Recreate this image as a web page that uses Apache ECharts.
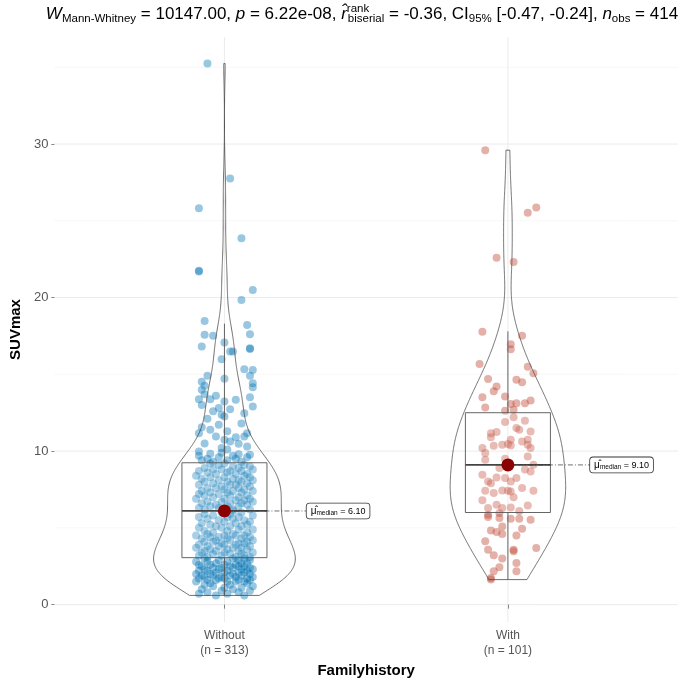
<!DOCTYPE html>
<html><head><meta charset="utf-8">
<script src="https://cdn.jsdelivr.net/npm/echarts@6/dist/echarts.min.js"></script>
<style>html,body{margin:0;padding:0;background:#fff}#c{width:687px;height:686px}</style>
</head><body><div id="c"></div>
<script>
const FONT = 'Liberation Sans, Arial, sans-serif';
const categories = ['Without', 'With'];
const xTitle = 'Familyhistory';
const yTitle = 'SUVmax';
const yTicks = [0, 10, 20, 30];
const yMinorTicks = [5, 15, 25, 35];

// SUVmax values, group "Without"
const withoutValues = [
  35.24, 27.76, 25.81, 23.86, 21.75, 21.70, 20.49, 19.84,
  18.48, 18.22, 17.57, 17.52, 17.61, 16.81, 17.07, 16.70, 16.65, 16.48, 16.48, 15.98, 15.33, 15.29, 14.90, 14.90, 14.72,
  14.51, 14.25, 13.99, 13.71, 14.42, 14.16,
  13.38, 13.38, 13.01, 13.51, 12.90, 13.23, 13.34,
  12.73, 12.80, 12.25, 12.36, 12.47,
  11.56, 11.17, 11.39, 10.95, 11.71, 11.17, 10.95,
  10.74, 10.63, 10.48,
  9.98, 9.82, 10.20, 10.30, 9.76,
  9.3, 9.3, 9.4, 9.4, 9.5, 9.5, 9.6, 9.6, 9.7, 9.7, 9.8, 9.9, 10.1, 10.5, 10.9, 11.3, 11.8, 12.1, 12.6, 13.6,
  6.2, 6.2, 6.2, 6.3, 6.3, 6.4, 6.4, 6.4, 6.5, 6.5,
  6.6, 6.6, 6.6, 6.7, 6.7, 6.7, 6.8, 6.8, 6.9, 6.9,
  6.9, 7.0, 7.0, 7.1, 7.1, 7.1, 7.2, 7.2, 7.3, 7.3,
  7.3, 7.4, 7.4, 7.4, 7.5, 7.5, 7.6, 7.6, 7.6, 7.7,
  7.7, 7.8, 7.8, 7.8, 7.9, 7.9, 8.0, 8.0, 8.0, 8.1,
  8.1, 8.1, 8.2, 8.2, 8.3, 8.3, 8.3, 8.4, 8.4, 8.5,
  8.5, 8.5, 8.6, 8.6, 8.7, 8.7, 8.7, 8.8, 8.8, 8.8,
  8.9, 8.9, 9.0, 9.0, 9.1, 9.1, 9.2, 9.2,
  6.1,
  3.1, 3.1, 3.1, 3.2, 3.2, 3.2, 3.3, 3.3, 3.3, 3.4,
  3.4, 3.4, 3.5, 3.5, 3.5, 3.6, 3.6, 3.6, 3.7, 3.7,
  3.7, 3.8, 3.8, 3.8, 3.9, 3.9, 3.9, 4.0, 4.0, 4.0,
  4.1, 4.1, 4.1, 4.2, 4.2, 4.2, 4.3, 4.3, 4.3, 4.4,
  4.4, 4.4, 4.5, 4.5, 4.5, 4.5, 4.6, 4.6, 4.7, 4.7,
  4.8, 4.8, 4.9, 4.9, 5.0, 5.0, 5.1, 5.1, 5.1, 5.2,
  5.2, 5.3, 5.3, 5.4, 5.4, 5.5, 5.5, 5.6, 5.6, 5.7,
  5.7, 5.7, 5.8, 5.8, 5.9, 5.9, 6.0, 6.0,
  0.6, 0.6, 0.7, 0.7, 0.8, 0.8, 0.9, 0.9, 1.0, 1.0,
  1.1, 1.1, 1.2, 1.2, 1.3, 1.3, 1.4, 1.4, 1.5, 1.5,
  1.5, 1.5, 1.6, 1.6, 1.6, 1.6, 1.7, 1.7, 1.7, 1.7,
  1.8, 1.8, 1.8, 1.8, 1.9, 1.9, 1.9, 1.9, 2.0, 2.0,
  2.0, 2.0, 2.1, 2.1, 2.1, 2.1, 2.2, 2.2, 2.2, 2.2,
  2.3, 2.3, 2.3, 2.3, 2.4, 2.4, 2.4, 2.4, 2.5, 2.5,
  2.5, 2.5, 2.6, 2.6, 2.6, 2.6, 2.7, 2.7, 2.7, 2.8,
  2.8, 2.8, 2.9, 2.9, 2.9, 3.0, 3.0, 3.0
];
// horizontal jitter of each "Without" point, in hundredths of a category
const withoutJitter = [
  -6, 2, -9, 6, -9, -9, 10, 6,
  -7, 8, -7, -4, 9, -8, 0, 9, 9, 2, 3, -1, 7, 10, -6, 9, 0,
  -8, -7, -8, -7, 10, 10,
  -9, -5, -8, 9, 10, 0, 4,
  2, -2, 0, -1, 7,
  -8, -9, -5, -3, -2, 8, 7,
  0, 2, 5,
  -9, -5, -1, 8, 9,
  -4, 6, -8, 1, 4, -6, 8, -2, 3, -9, 5, -1, 1, -7, 4, 1, 6, -6, -4, -3,
  -7, 3, 9, -2, -9, 5, 1, -5, 8, -3,
  6, -8, 2, 10, -1, -6, 7, 4, -10, 0,
  9, -4, 5, -7, 2, 8, -2, -9, 6, 1,
  -5, 10, 3, -8, 0, 7, -3, 5, -6, 9,
  -1, 4, -9, 2, 8, -4, 6, -7, 1, 10,
  -2, 5, -8, 3, 9, -5, 0, -10, 7, -3,
  4, 8, -6, 1, -9, 6, 2, -4, 10, -1,
  5, -7, 3, 9, -2, 7, -5, 0,
  3,
  4, -6, 9, -1, 7, -9, 2, -4, 6, 0,
  -8, 10, -3, 5, -7, 1, 8, -5, 3, -10,
  6, -2, 9, -6, 0, 4, -9, 7, -1, 5,
  -4, 8, -7, 2, 10, -3, 6, -8, 1, -5,
  9, -2, 4, -10, 7, 0, -6, 3, 8, -4,
  1, -7, 5, 10, -1, -9, 6, 2, -3, 8,
  -5, 4, -8, 0, 9, -2, 7, -6, 3, -9,
  5, 1, -4, 10, -7, 2, 6, -1,
  -3, 7, -9, 1, 5, -6, 9, -1, 3, -8,
  6, 0, -4, 10, -7, 2, 8, -5, 4, -10,
  1, 7, -3, 9, -6, 5, -2, 8, -9, 0,
  4, -7, 10, -1, 6, -4, 2, -8, 9, -5,
  3, -10, 7, 0, -3, 5, -6, 8, 1, -9,
  6, -2, 10, -7, 3, -4, 9, -1, 5, -8,
  2, 7, -5, 0, -9, 4, 8, -3, 6, -6,
  1, -10, 9, -2, 5, -7, 3, 7
];

// SUVmax values, group "With"
const withValues = [
  29.60, 25.52, 25.87, 22.60, 22.32, 17.78, 17.52, 16.96, 16.64,
  15.68, 15.50, 15.07, 14.70, 14.20, 14.64, 14.49,
  13.51, 13.55, 12.84, 13.06, 13.12, 13.12, 12.69, 12.62,
  11.89, 11.97, 11.17, 11.24, 11.50, 11.39, 11.28,
  10.20, 9.87, 9.43, 10.34, 10.41, 10.74, 10.46, 10.36, 10.63, 10.74, 10.41, 10.20,
  9.65, 9.11, 8.67, 8.46,
  8.28, 8.24, 8.02, 8.24, 7.59, 8.02, 7.42,
  7.27, 7.44, 7.42, 7.37, 7.42,
  6.46, 6.51, 6.29, 6.33, 6.29, 5.86, 5.71, 5.97, 5.64, 5.60, 5.60, 5.53,
  4.83, 4.73, 5.09, 4.60, 4.94, 4.51, 4.12,
  3.58, 3.21, 3.58, 3.47, 3.69, 2.71,
  2.43, 2.17, 1.74, 1.63, 2.17,
  8.9, 8.8, 7.9, 7.0, 6.8, 6.1, 9.5, 10.9, 12.2, 13.9, 13.3, 3.0
];
const withJitter = [
  -8, 7, 10, -4, 2, -9, 5, 1, 1,
  -10, 7, 9, -7, -4, 3, 5,
  -9, -1, -8, 1, 3, 6, 2, -1,
  -1, 6, -6, -4, 3, 4, 8,
  -9, -8, -8, -5, -2, 1, 0, 1, 5, 7, 7, 8,
  7, 9, 8, -9,
  -4, -1, 1, 3, 5, -7, -8,
  -5, -2, 0, 1, 9,
  7, -4, -2, 1, -7, -7, -7, -3, -3, 1, 4, 8,
  -6, -4, -2, -2, 5, 3, -8,
  -7, -5, 2, 2, 10, 3,
  -3, -5, -6, -6, 3,
  -3, 6, -6, 2, -9, 4, -1, -6, 2, -5, 8, -2
];

// box statistics: [lower whisker, Q1, median, Q3, upper whisker]
const withoutBox = [0.6, 3.06, 6.10, 9.24, 18.3];
const withBox = [1.65, 6.0, 9.10, 12.5, 17.8];

const titleParts = {
  stat: '10147.00', p: '6.22e-08', r: '-0.36', ci: '[-0.47, -0.24]', nobs: '414'
};

// ---------- derived (violin density like ggplot stat_ydensity, trim = TRUE) ----------
function q7(s, p) { const h = (s.length - 1) * p, lo = Math.floor(h); const hi = Math.min(lo + 1, s.length - 1); return s[lo] + (h - lo) * (s[hi] - s[lo]); }
function bwNrd0(x) {
  const n = x.length, m = x.reduce((a, b) => a + b, 0) / n;
  const sd = Math.sqrt(x.reduce((a, b) => a + (b - m) * (b - m), 0) / (n - 1));
  const s = x.slice().sort((a, b) => a - b);
  const iqr = q7(s, 0.75) - q7(s, 0.25);
  return 0.9 * Math.min(sd, iqr / 1.34) * Math.pow(n, -0.2);
}
function kde(x) {
  const s = x.slice().sort((a, b) => a - b), bw = bwNrd0(x), n = x.length, N = 512;
  const ys = [], d = [];
  for (let k = 0; k < N; k++) {
    const y = s[0] + (s[n - 1] - s[0]) * k / (N - 1);
    let acc = 0;
    for (let i = 0; i < n; i++) { const z = (y - s[i]) / bw; acc += Math.exp(-0.5 * z * z); }
    ys.push(y); d.push(acc / (n * bw * Math.sqrt(2 * Math.PI)));
  }
  return { ys, d };
}
const groups = [withoutValues, withValues];
const dens = groups.map(kde);
const maxD = Math.max(...dens.map(o => Math.max(...o.d)));
const violins = dens.map(o => ({ ys: o.ys, w: o.d.map(v => 0.25 * v / maxD) }));
const allVals = withoutValues.concat(withValues);
const dMin = Math.min(...allVals), dMax = Math.max(...allVals);
const yMin = dMin - 0.05 * (dMax - dMin), yMax = dMax + 0.05 * (dMax - dMin);
const counts = groups.map(g => g.length);

const blue = '#0072B5', red = '#BC3C29';
const ptsWithout = withoutValues.map((v, i) => [1 + withoutJitter[i] / 100, v]);
const ptsWith = withValues.map((v, i) => [2 + withJitter[i] / 100, v]);
const boxes = [withoutBox, withBox];

const chart = echarts.init(document.getElementById('c'), null, { renderer: 'canvas' });
const rs = (o) => Object.assign({ fontFamily: FONT, color: '#000', align: 'left', fontWeight: 'normal' }, o);
const option = {
  animation: false,
  backgroundColor: '#fff',
  textStyle: { fontFamily: FONT },
  title: {
    text: '{i|W}{sub|Mann-Whitney}{n| = ' + titleParts.stat + ', }{i|p}{n| = ' + titleParts.p + ', }{i|r\u0302}{sup|rank}{sub|biserial}{n| = ' + titleParts.r + ', CI}{sub|95%}{n| ' + titleParts.ci + ', }{i|n}{sub|obs}{n| = ' + titleParts.nobs + '}',
    left: 362, top: 3, textAlign: 'center', padding: 0,
    textStyle: {
      fontFamily: FONT, fontWeight: 'normal',
      rich: {
        n: rs({ fontSize: 17, lineHeight: 22 }),
        i: rs({ fontSize: 17, lineHeight: 22, fontStyle: 'italic' }),
        sub: rs({ fontSize: 11.5, verticalAlign: 'bottom' }),
        sup: rs({ fontSize: 11.5, verticalAlign: 'top', width: 1 })
      }
    }
  },
  grid: { left: 43, right: 9, top: 37, bottom: 64 },
  xAxis: {
    type: 'value', min: 0.4, max: 2.6,
    name: xTitle, nameLocation: 'middle', nameGap: 37,
    nameTextStyle: { fontFamily: FONT, fontWeight: 'bold', fontSize: 15, color: '#000' },
    axisLine: { show: false },
    axisTick: { show: true, customValues: [1, 2], length: 4, lineStyle: { color: '#666', width: 0.8 } },
    axisLabel: {
      customValues: [1, 2], margin: 6, color: '#555', fontSize: 12, lineHeight: 15, fontFamily: FONT,
      formatter: v => categories[Math.round(v) - 1] + '\n(n = ' + counts[Math.round(v) - 1] + ')'
    },
    splitLine: { show: false }
  },
  yAxis: {
    type: 'value', min: yMin, max: yMax,
    name: yTitle, nameLocation: 'middle', nameGap: 27,
    nameTextStyle: { fontFamily: FONT, fontWeight: 'bold', fontSize: 15, color: '#000' },
    axisLine: { show: false },
    axisTick: { show: true, customValues: yTicks, length: 3, lineStyle: { color: '#666', width: 0.8 } },
    axisLabel: { customValues: yTicks, margin: 6, color: '#555', fontSize: 13, fontFamily: FONT },
    splitLine: { show: false }
  },
  series: [
    {
      type: 'custom', name: 'grid', silent: true, z: 0,
      data: yTicks.map(v => [0, v, 1]).concat(yMinorTicks.map(v => [0, v, 0])).concat([[1, 1, 1], [1, 2, 1]]),
      renderItem: function (params, api) {
        const o = api.value(0), v = api.value(1), major = api.value(2);
        const a = o === 0 ? api.coord([0.4, v]) : api.coord([v, yMin]);
        const b = o === 0 ? api.coord([2.6, v]) : api.coord([v, yMax]);
        return { type: 'line', shape: { x1: a[0], y1: a[1], x2: b[0], y2: b[1] },
          style: { stroke: major ? '#ebebeb' : '#f4f4f4', lineWidth: major ? 1 : 0.7 } };
      }
    },
    {
      type: 'scatter', name: categories[0], data: ptsWithout, symbolSize: 8, z: 2, silent: true,
      itemStyle: { color: blue, opacity: 0.4 }
    },
    {
      type: 'scatter', name: categories[1], data: ptsWith, symbolSize: 8, z: 2, silent: true,
      itemStyle: { color: red, opacity: 0.4 }
    },
    {
      type: 'custom', name: 'box', silent: true, z: 3,
      data: boxes.map((b, g) => [g + 1].concat(b)),
      renderItem: function (params, api) {
        const x = api.value(0), lo = api.value(1), q1 = api.value(2), md = api.value(3), q3 = api.value(4), hi = api.value(5);
        const tl = api.coord([x - 0.15, q3]), br = api.coord([x + 0.15, q1]);
        const mL = api.coord([x - 0.15, md]), mR = api.coord([x + 0.15, md]);
        const wTop = api.coord([x, hi]), wQ3 = api.coord([x, q3]), wQ1 = api.coord([x, q1]), wLo = api.coord([x, lo]);
        const st = { stroke: '#555', lineWidth: 0.9, fill: null };
        return { type: 'group', children: [
          { type: 'rect', shape: { x: tl[0], y: tl[1], width: br[0] - tl[0], height: br[1] - tl[1] }, style: { stroke: '#555', lineWidth: 0.9, fill: 'rgba(255,255,255,0.15)' } },
          { type: 'line', shape: { x1: mL[0], y1: mL[1], x2: mR[0], y2: mR[1] }, style: { stroke: '#444', lineWidth: 1.8 } },
          { type: 'line', shape: { x1: wTop[0], y1: wTop[1], x2: wQ3[0], y2: wQ3[1] }, style: st },
          { type: 'line', shape: { x1: wQ1[0], y1: wQ1[1], x2: wLo[0], y2: wLo[1] }, style: st }
        ] };
      }
    },
    {
      type: 'custom', name: 'violin', silent: true, z: 3,
      data: [[0], [1]],
      renderItem: function (params, api) {
        const g = api.value(0), v = violins[g], pts = [];
        for (let k = 0; k < v.ys.length; k++) pts.push(api.coord([g + 1 - v.w[k], v.ys[k]]));
        for (let k = v.ys.length - 1; k >= 0; k--) pts.push(api.coord([g + 1 + v.w[k], v.ys[k]]));
        return { type: 'polygon', shape: { points: pts }, style: { fill: 'rgba(255,255,255,0)', stroke: '#4a4a4a', lineWidth: 0.8 } };
      }
    },
    {
      type: 'custom', name: 'medianLabel', silent: true, z: 5,
      data: boxes.map((b, g) => [g + 1, b[2]]),
      renderItem: function (params, api) {
        const x = api.value(0), md = api.value(1);
        const p0 = api.coord([x, md]), p1 = api.coord([x + 0.29, md]);
        return { type: 'group', children: [
          { type: 'line', shape: { x1: p0[0], y1: p0[1], x2: p1[0], y2: p1[1] }, style: { stroke: '#333', lineWidth: 0.7, lineDash: [5, 2, 1, 2] } },
          { type: 'text', x: p1[0], y: p1[1], z2: 10, style: {
            text: '{m|\u03bc\u0302}{s|median}{e| = ' + md.toFixed(2) + '}',
            align: 'left', verticalAlign: 'middle', fill: '#000',
            fontFamily: FONT, fontSize: 9,
            rich: {
              m: { fontFamily: FONT, fontSize: 10, fill: '#000', align: 'left' },
              s: { fontFamily: FONT, fontSize: 6.5, verticalAlign: 'bottom', fill: '#000', align: 'left' },
              e: { fontFamily: FONT, fontSize: 9, fill: '#000', align: 'left' }
            },
            backgroundColor: '#fff', borderColor: '#333', borderWidth: 0.8, borderRadius: 3, padding: [3, 4, 2, 4]
          } }
        ] };
      }
    },
    {
      type: 'scatter', name: 'median', data: boxes.map((b, g) => [g + 1, b[2]]), symbolSize: 13, z: 6, silent: true,
      itemStyle: { color: '#8B0000', opacity: 1 }
    }
  ]
};
chart.setOption(option);
</script></body></html>
